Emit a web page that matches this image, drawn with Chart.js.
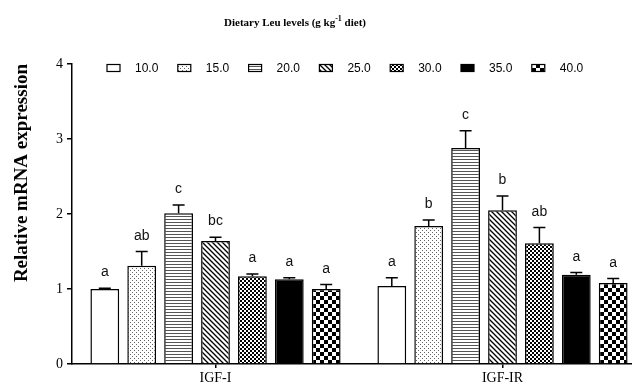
<!DOCTYPE html>
<html>
<head>
<meta charset="utf-8">
<script src="https://cdn.jsdelivr.net/npm/chart.js"></script>
<style>
  html, body { margin: 0; padding: 0; background: #fff; overflow: hidden; }
  #wrap { width: 646px; height: 385px; }
</style>
</head>
<body>
<div id="wrap"><canvas id="chart"></canvas></div>
<script>
const genes = ["IGF-I", "IGF-IR"];
const leuLevels = ["10.0", "15.0", "20.0", "25.0", "30.0", "35.0", "40.0"];
const igf1Means = [1.00, 1.31, 2.01, 1.64, 1.17, 1.13, 1.00];
const igf1Errors = [0.01, 0.19, 0.11, 0.05, 0.03, 0.02, 0.06];
const igf1Letters = ["a", "ab", "c", "bc", "a", "a", "a"];
const igf1rMeans = [1.04, 1.84, 2.88, 2.05, 1.61, 1.19, 1.08];
const igf1rErrors = [0.11, 0.08, 0.23, 0.19, 0.21, 0.03, 0.06];
const igf1rLetters = ["a", "b", "c", "b", "ab", "a", "a"];
const yTicks = [0, 1, 2, 3, 4];

const canvas = document.getElementById("chart");
const ctx = canvas.getContext("2d");

// small tiles used as bar fills
function makePattern(size, draw) {
  const c = document.createElement("canvas");
  c.width = size;
  c.height = size;
  const g = c.getContext("2d");
  g.fillStyle = "#fff";
  g.fillRect(0, 0, size, size);
  draw(g, size);
  return ctx.createPattern(c, "repeat");
}

const fills = [
  "#ffffff",
  makePattern(4, (g) => { g.fillStyle = "#666"; g.fillRect(0, 0, 1, 1); g.fillRect(2, 2, 1, 1); }),
  makePattern(3, (g) => { g.fillStyle = "#555"; g.fillRect(0, 0, 3, 1); }),
  makePattern(5, (g) => {
    g.strokeStyle = "#000";
    g.lineWidth = 1.3;
    g.beginPath();
    g.moveTo(-1, -1); g.lineTo(6, 6);
    g.moveTo(-1, 4); g.lineTo(1, 6);
    g.moveTo(4, -1); g.lineTo(6, 1);
    g.stroke();
  }),
  makePattern(4, (g) => { g.fillStyle = "#000"; g.fillRect(0, 0, 2, 2); g.fillRect(2, 2, 2, 2); }),
  "#000000",
  makePattern(8, (g) => { g.fillStyle = "#000"; g.fillRect(0, 0, 4, 4); g.fillRect(4, 4, 4, 4); })
];

const datasets = leuLevels.map((lvl, i) => ({
  label: lvl,
  data: [igf1Means[i], igf1rMeans[i]],
  errors: [igf1Errors[i], igf1rErrors[i]],
  letters: [igf1Letters[i], igf1rLetters[i]],
  backgroundColor: fills[i],
  borderColor: "#000",
  borderWidth: 1.5,
  categoryPercentage: 0.9,
  barPercentage: 0.78
}));

const errorBars = {
  id: "errorBars",
  afterDatasetsDraw(chart) {
    const c = chart.ctx;
    const y = chart.scales.y;
    c.save();
    c.strokeStyle = "#000";
    c.lineWidth = 1.5;
    c.fillStyle = "#111";
    c.font = "14px 'Liberation Sans', Arial, sans-serif";
    c.textAlign = "center";
    c.textBaseline = "alphabetic";
    chart.data.datasets.forEach((ds, d) => {
      chart.getDatasetMeta(d).data.forEach((bar, j) => {
        const top = y.getPixelForValue(ds.data[j] + ds.errors[j]);
        c.beginPath();
        c.moveTo(bar.x, bar.y);
        c.lineTo(bar.x, top);
        c.moveTo(bar.x - 6, top);
        c.lineTo(bar.x + 6, top);
        c.stroke();
        c.fillText(ds.letters[j], bar.x, top - 12);
      });
    });
    c.restore();
  }
};

const legendAndTitle = {
  id: "legendAndTitle",
  afterDraw(chart) {
    const c = chart.ctx;
    c.save();
    // title with superscript
    c.fillStyle = "#000";
    c.textBaseline = "alphabetic";
    const main = "bold 11px 'Liberation Serif', 'Times New Roman', serif";
    const sup = "bold 8px 'Liberation Serif', 'Times New Roman', serif";
    const p1 = "Dietary Leu levels (g kg", p2 = "-1", p3 = " diet)";
    c.font = main;
    const w1 = c.measureText(p1).width, w3 = c.measureText(p3).width;
    c.font = sup;
    const w2 = c.measureText(p2).width;
    let x = 295 - (w1 + w2 + w3) / 2;
    const base = 26;
    c.font = main; c.fillText(p1, x, base); x += w1;
    c.font = sup; c.fillText(p2, x, base - 5); x += w2;
    c.font = main; c.fillText(p3, x, base);

    // legend row
    c.font = "12px 'Liberation Sans', Arial, sans-serif";
    c.textBaseline = "middle";
    c.lineWidth = 1.2;
    c.strokeStyle = "#000";
    chart.data.datasets.forEach((ds, i) => {
      const lx = 107 + i * 70.8;
      c.fillStyle = ds.backgroundColor;
      c.fillRect(lx, 64.5, 13, 7);
      c.strokeRect(lx, 64.5, 13, 7);
      c.fillStyle = "#000";
      c.fillText(ds.label, lx + 28, 68.5);
    });
    c.restore();
  }
};

new Chart(canvas, {
  type: "bar",
  data: { labels: genes, datasets: datasets },
  options: {
    responsive: true,
    maintainAspectRatio: false,
    animation: false,
    layout: { padding: { top: 64, right: 0, bottom: 0, left: 0 } },
    plugins: { legend: { display: false }, tooltip: { enabled: false } },
    scales: {
      x: {
        afterFit: (s) => { s.height = 21; },
        ticks: { color: "#000", padding: 2, font: { family: "'Liberation Serif', serif", size: 14 } },
        grid: { offset: false, drawOnChartArea: false, drawTicks: true, tickLength: 4, color: "#000", lineWidth: 1.5 },
        border: { color: "#000", width: 1.5 }
      },
      y: {
        min: 0,
        max: 4,
        afterFit: (s) => { s.width = 72; },
        afterBuildTicks: (s) => { s.ticks = yTicks.map((v) => ({ value: v })); },
        ticks: { color: "#000", padding: 4, font: { family: "'Liberation Serif', serif", size: 14 } },
        grid: { drawOnChartArea: false, drawTicks: true, tickLength: 5, color: "#000", lineWidth: 1.5 },
        border: { color: "#000", width: 1.5 },
        title: {
          display: true,
          text: "Relative mRNA expression",
          align: "end",
          color: "#000",
          font: { family: "'Liberation Serif', serif", size: 19, weight: "bold" },
          padding: { top: 11, bottom: 0 }
        }
      }
    }
  },
  plugins: [errorBars, legendAndTitle]
});
</script>
</body>
</html>
